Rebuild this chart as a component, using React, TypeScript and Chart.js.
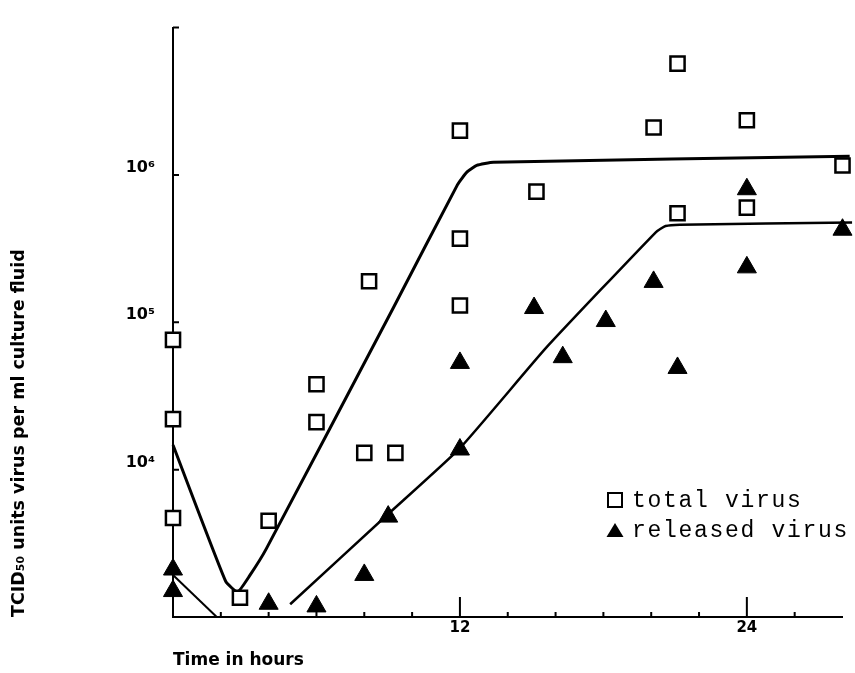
import React, { useEffect, useRef } from "react";
import { Chart, registerables } from "chart.js";

Chart.register(...registerables);

// Observed data (hours, TCID50 per ml)
const totalHours = [0, 0, 0, 2.8, 4, 6, 6, 8, 9.3, 8.2, 12, 12, 12, 15.2, 20.1, 21.1, 21.1, 24, 24, 28];
const totalValues = [7.6e4, 2.2e4, 4.7e3, 1.35e3, 4.5e3, 3.8e4, 2.1e4, 1.3e4, 1.3e4, 1.9e5, 2.0e6, 3.7e5, 1.3e5, 7.7e5, 2.1e6, 5.7e6, 5.5e5, 2.35e6, 6.0e5, 1.16e6];

const releasedHours = [0, 0, 4, 6, 8, 9, 12, 12, 15.1, 16.3, 18.1, 20.1, 21.1, 24, 24, 28];
const releasedValues = [2.1e3, 1.5e3, 1.23e3, 1.18e3, 1.93e3, 4.8e3, 1.37e4, 5.3e4, 1.25e5, 5.8e4, 1.02e5, 1.88e5, 4.9e4, 8.0e5, 2.36e5, 4.25e5];

// Hand-drawn fitted curves
const totalFitHours = [0, 2.2, 2.7, 3.2, 3.9, 9.2, 11.9, 12.3, 12.7, 13.4, 28.3];
const totalFitValues = [1.47e4, 1.75e3, 1.48e3, 1.9e3, 2.9e3, 1.24e5, 8.6e5, 1.05e6, 1.16e6, 1.22e6, 1.34e6];

const releasedEarlyHours = [0, 1.83];
const releasedEarlyValues = [1.93e3, 1.0e3];

const releasedFitHours = [4.9, 9, 12, 15.6, 20.2, 20.6, 21.2, 28.4];
const releasedFitValues = [1.22e3, 5.0e3, 1.4e4, 6.7e4, 4.1e5, 4.5e5, 4.6e5, 4.75e5];

const yLabelValues = [1e4, 1e5, 1e6];
const yLabelTexts = ["10\u2074", "10\u2075", "10\u2076"];
const yTickMarks = [1e4, 1e5, 1e6, 1e7];
const xTickValues = [0, 2, 4, 6, 8, 10, 12, 14, 16, 18, 20, 22, 24, 26, 28];
const xLabelValues = [12, 24];
const xLabelTexts = ["12", "24"];

const legendLabels = ["total virus", "released virus"];

const pts = (xs: number[], ys: number[]) => xs.map((x, i) => ({ x, y: ys[i] }));

const FONT = "'DejaVu Sans', sans-serif";

const innerTicks = {
  id: "innerTicks",
  afterDraw(chart: any) {
    const { ctx, chartArea, scales } = chart;
    const xs = scales.x;
    const ys = scales.y;
    ctx.save();
    ctx.strokeStyle = "#000";
    ctx.lineWidth = 2;
    ctx.beginPath();
    for (const v of xTickValues) {
      if (v === 0 || v === 28) continue;
      const px = xs.getPixelForValue(v);
      const len = xLabelValues.includes(v) ? 20 : 5;
      ctx.moveTo(px, chartArea.bottom);
      ctx.lineTo(px, chartArea.bottom - len);
    }
    for (const v of yTickMarks) {
      const py = ys.getPixelForValue(v);
      ctx.moveTo(chartArea.left, py);
      ctx.lineTo(chartArea.left + 6, py);
    }
    ctx.stroke();

    // legend
    const lx = 615;
    const row1 = 507;
    const row2 = 537;
    ctx.lineWidth = 2;
    ctx.fillStyle = "#fff";
    ctx.fillRect(lx - 7, row1 - 14, 14, 14);
    ctx.strokeRect(lx - 7, row1 - 14, 14, 14);
    ctx.fillStyle = "#000";
    ctx.beginPath();
    ctx.moveTo(lx, row2 - 14);
    ctx.lineTo(lx + 8.5, row2);
    ctx.lineTo(lx - 8.5, row2);
    ctx.closePath();
    ctx.fill();
    ctx.font = "23px 'Liberation Mono', monospace";
    try { (ctx as any).letterSpacing = "1.7px"; } catch (e) {}
    ctx.textBaseline = "alphabetic";
    ctx.textAlign = "left";
    ctx.fillText(legendLabels[0], 632, row1);
    ctx.fillText(legendLabels[1], 632, row2);
    ctx.restore();
  },
};

export default function App() {
  const ref = useRef<HTMLCanvasElement | null>(null);
  useEffect(() => {
    if (!ref.current) return;
    const chart = new Chart(ref.current, {
      type: "scatter",
      data: {
        datasets: [
          {
            label: legendLabels[0],
            data: pts(totalHours, totalValues),
            showLine: false,
            pointStyle: "rect",
            pointRadius: 10,
            pointBackgroundColor: "#fff",
            pointBorderColor: "#000",
            pointBorderWidth: 2.5,
            clip: false,
          } as any,
          {
            label: legendLabels[1],
            data: pts(releasedHours, releasedValues),
            showLine: false,
            pointStyle: "triangle",
            pointRadius: 11,
            pointBackgroundColor: "#000",
            pointBorderColor: "#000",
            pointBorderWidth: 1,
            clip: false,
          } as any,
          {
            label: "total fit",
            data: pts(totalFitHours, totalFitValues),
            showLine: true,
            borderColor: "#000",
            borderWidth: 3,
            pointRadius: 0,
            tension: 0.15,
            clip: false,
          } as any,
          {
            label: "released early",
            data: pts(releasedEarlyHours, releasedEarlyValues),
            showLine: true,
            borderColor: "#000",
            borderWidth: 2,
            pointRadius: 0,
            clip: false,
          } as any,
          {
            label: "released fit",
            data: pts(releasedFitHours, releasedFitValues),
            showLine: true,
            borderColor: "#000",
            borderWidth: 2.5,
            pointRadius: 0,
            tension: 0.15,
            clip: false,
          } as any,
        ],
      },
      options: {
        animation: false,
        responsive: false,
        events: [],
        layout: { padding: { top: 12, right: 12, left: 0, bottom: 0 } },
        plugins: { legend: { display: false }, tooltip: { enabled: false } },
        scales: {
          x: {
            type: "linear",
            min: 0,
            max: 28,
            grid: { display: false, drawTicks: false },
            border: { display: true, color: "#000", width: 2 },
            afterBuildTicks: (s: any) => {
              s.ticks = xTickValues.map((v) => ({ value: v }));
            },
            afterFit: (s: any) => {
              s.height = 56;
            },
            ticks: {
              autoSkip: false,
              maxRotation: 0,
              padding: 2,
              color: "#000",
              font: { family: FONT, size: 15, weight: "bold" },
              callback: (v: any) => {
                const i = xLabelValues.indexOf(Number(v));
                return i >= 0 ? xLabelTexts[i] : "";
              },
            },
            title: {
              display: true,
              text: "Time in hours",
              align: "start",
              color: "#000",
              font: { family: FONT, size: 17, weight: "bold" },
              padding: { top: 0, bottom: 2 },
            },
          },
          y: {
            type: "logarithmic",
            min: 1000,
            max: 1e7,
            grid: { display: false, drawTicks: false },
            border: { display: true, color: "#000", width: 2 },
            afterBuildTicks: (s: any) => {
              s.ticks = yLabelValues.map((v) => ({ value: v }));
            },
            afterFit: (s: any) => {
              s.width = 173;
            },
            ticks: {
              autoSkip: false,
              padding: 18,
              labelOffset: -7,
              color: "#000",
              font: { family: FONT, size: 16, weight: "bold" },
              callback: (v: any) => {
                const i = yLabelValues.indexOf(Number(v));
                return i >= 0 ? yLabelTexts[i] : "";
              },
            },
            title: {
              display: true,
              text: "TCID\u2085\u2080 units virus per ml culture fluid",
              align: "start",
              color: "#000",
              font: { family: FONT, size: 17.5, weight: "bold" },
              padding: { top: 8.5, bottom: 0 },
            },
          },
        },
      } as any,
      plugins: [innerTicks],
    });
    return () => chart.destroy();
  }, []);
  return (
    <div style={{ position: "absolute", left: 0, top: 0, width: 855, height: 673, background: "#fff" }}>
      <canvas ref={ref} width={855} height={673} />
    </div>
  );
}
